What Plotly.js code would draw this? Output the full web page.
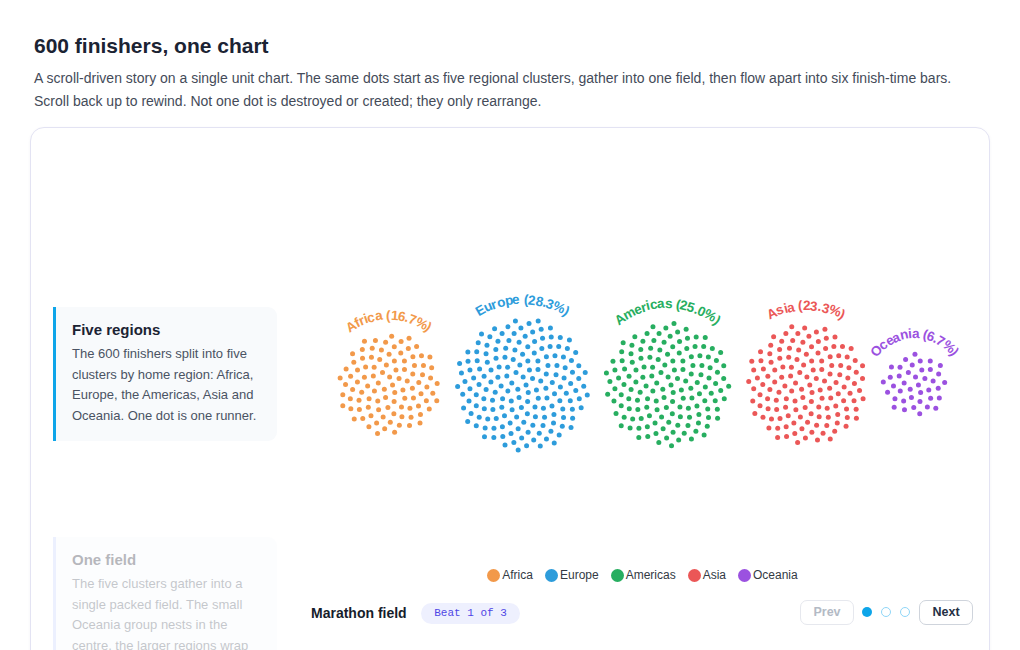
<!DOCTYPE html>
<html>
<head>
<meta charset="utf-8">
<script src="https://cdn.plot.ly/plotly-3.0.1.min.js"></script>
<style>
  html, body { margin:0; padding:0; background:#ffffff; width:1020px; height:650px; overflow:hidden;
    font-family:"Liberation Sans", Arial, Helvetica, sans-serif; }
  .abs { position:absolute; }
  #title { left:34px; top:34px; font-size:21px; font-weight:bold; color:#1b2333; line-height:24px; margin:0; }
  #sub { left:34px; top:67px; width:960px; font-size:14px; color:#444b59; line-height:23px; }
  #card { left:30px; top:127px; width:958px; height:560px; border:1px solid #e3e3f3; border-radius:14px;
    box-shadow:0 1px 3px rgba(80,80,140,0.06); background:#fff; }
  .step { width:189px; padding:10px 16px 10px 16px; border-left:3px solid #0ea5e9; background:#f8fafc;
    border-radius:0 9px 9px 0; box-sizing:content-box; }
  .step h3 { margin:0 0 1px 0; font-size:15px; font-weight:bold; color:#1b2333; line-height:26px; }
  .step p { margin:0; font-size:13px; color:#4a5363; line-height:20.6px; }
  #step1 { left:53px; top:307px; height:114px; }
  #step2 { left:53px; top:537px; height:140px; opacity:0.32; border-left-color:#c7d2fe; }
  #plot { left:295px; top:140px; width:695px; height:420px; }
  #legend { left:295px; top:566px; width:695px; display:flex; justify-content:center; font-size:12px; color:#333a44; }
  .li { display:flex; align-items:center; margin:0 6px; line-height:18px; }
  .sw { width:13px; height:13px; border-radius:50%; margin-right:2px; display:inline-block; }
  #mf { left:311px; top:604px; font-size:14px; font-weight:bold; color:#161d2b; line-height:18px; }
  #badge { left:421px; top:603px; width:99px; height:21px; border-radius:11px; background:#eef0fe; color:#4f46e5;
    font-family:"Liberation Mono","Courier New",monospace; font-size:11px; line-height:21px; text-align:center; }
  .btn { top:600px; width:52px; height:23px; border-radius:7px; background:#fff; font-size:12.5px; font-weight:bold;
    line-height:23px; text-align:center; }
  #prev { left:800px; border:1px solid #e6e8ee; color:#b3bac5; }
  #next { left:919px; border:1px solid #cfd4dc; color:#243044; }
  .dot { top:607px; width:10px; height:10px; border-radius:50%; box-sizing:border-box; }
</style>
</head>
<body>
<h1 id="title" class="abs">600 finishers, one chart</h1>
<div id="sub" class="abs">A scroll-driven story on a single unit chart. The same dots start as five regional clusters, gather into one field, then flow apart into six finish-time bars.<br>Scroll back up to rewind. Not one dot is destroyed or created; they only rearrange.</div>
<div id="card" class="abs"></div>
<div id="step1" class="abs step"><h3>Five regions</h3><p>The 600 finishers split into five clusters by home region: Africa, Europe, the Americas, Asia and Oceania. One dot is one runner.</p></div>
<div id="step2" class="abs step"><h3>One field</h3><p>The five clusters gather into a single packed field. The small Oceania group nests in the centre, the larger regions wrap around it.</p></div>
<div id="plot" class="abs"></div>
<div id="legend" class="abs"></div>
<div id="mf" class="abs">Marathon field</div>
<div id="badge" class="abs">Beat 1 of 3</div>
<div id="prev" class="abs btn">Prev</div>
<div class="abs dot" style="left:862px;background:#0ea5e9;"></div>
<div class="abs dot" style="left:881px;border:1.5px solid #8fd6f8;"></div>
<div class="abs dot" style="left:900px;border:1.5px solid #8fd6f8;"></div>
<div id="next" class="abs btn">Next</div>
<script>
// ---- data ----
const regions = ["Africa", "Europe", "Americas", "Asia", "Oceania"];
const counts = [100, 170, 150, 140, 40];
const colors = ["#F2994A", "#2D9CDB", "#27AE60", "#EB5757", "#9B51E0"];

// ---- layout parameters ----
const SPACING = 5.1, GAP = 16, ROW_CX = 642.5, ROW_CY = 385;
const LABEL_OFFSET = 19, LABEL_FONT = 13.5;
const GOLDEN = Math.PI * (3 - Math.sqrt(5));
const total = counts.reduce((a, b) => a + b, 0);

const radii = counts.map(n => SPACING * Math.sqrt(n));
const rowW = radii.reduce((a, r) => a + 2 * r, 0) + GAP * (counts.length - 1);
let cursor = ROW_CX - rowW / 2;
const centers = radii.map(r => { const c = cursor + r; cursor += 2 * r + GAP; return c; });

const traces = regions.map((name, k) => {
  const xs = [], ys = [];
  for (let i = 0; i < counts[k]; i++) {
    const r = SPACING * Math.sqrt(i + 0.5), a = i * GOLDEN;
    xs.push(centers[k] + r * Math.cos(a));
    ys.push(ROW_CY + r * Math.sin(a));
  }
  return { type: "scatter", mode: "markers", name, x: xs, y: ys, hoverinfo: "skip",
    marker: { size: 5, color: colors[k], line: { width: 0 } } };
});

// curved labels, one annotation per character
const cvs = document.createElement("canvas").getContext("2d");
cvs.font = "bold " + LABEL_FONT + "px 'Liberation Sans', Arial, sans-serif";
const annotations = [];
regions.forEach((name, k) => {
  const txt = name + " (" + (counts[k] / total * 100).toFixed(1) + "%)";
  const chars = [...txt];
  const widths = chars.map(ch => cvs.measureText(ch).width);
  const tot = widths.reduce((a, b) => a + b, 0);
  const rr = radii[k] + LABEL_OFFSET;
  let s = -tot / 2;
  chars.forEach((ch, j) => {
    const mid = s + widths[j] / 2; s += widths[j];
    if (ch === " ") return;
    const phi = mid / rr;
    annotations.push({ x: centers[k] + rr * Math.sin(phi), y: ROW_CY - rr * Math.cos(phi),
      xref: "x", yref: "y", text: "<b>" + ch + "</b>", showarrow: false, textangle: phi * 180 / Math.PI,
      xanchor: "center", yanchor: "middle",
      font: { family: "Liberation Sans, Arial, sans-serif", size: LABEL_FONT, color: colors[k] } });
  });
});

Plotly.newPlot("plot", traces, {
  width: 695, height: 420, margin: { l: 0, r: 0, t: 0, b: 0 },
  paper_bgcolor: "rgba(0,0,0,0)", plot_bgcolor: "rgba(0,0,0,0)", showlegend: false,
  xaxis: { range: [295, 990], visible: false, fixedrange: true },
  yaxis: { range: [560, 140], visible: false, fixedrange: true },
  annotations
}, { staticPlot: true, displayModeBar: false });

// legend
const lg = document.getElementById("legend");
regions.forEach((name, k) => {
  const d = document.createElement("div"); d.className = "li";
  d.innerHTML = '<span class="sw" style="background:' + colors[k] + '"></span>' + name;
  lg.appendChild(d);
});
</script>
</body>
</html>
